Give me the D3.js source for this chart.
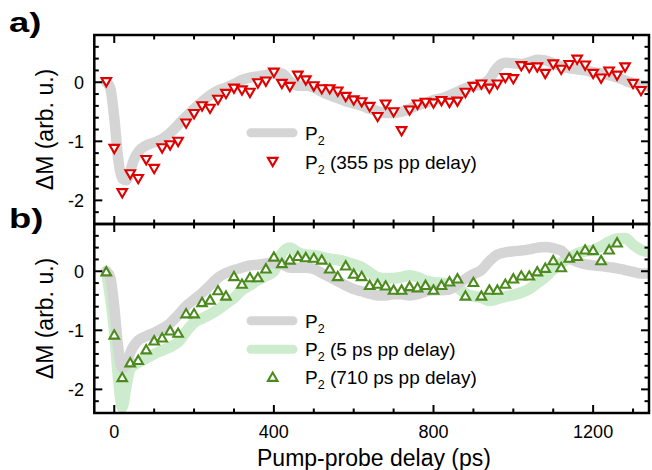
<!DOCTYPE html>
<html><head><meta charset="utf-8">
<script src="https://cdn.jsdelivr.net/npm/d3@7"></script>
<style>
body{margin:0;background:#fff}
svg{display:block}
text{font-family:"Liberation Sans",Arial,sans-serif;fill:#000}
</style>
</head><body><svg id="c" width="652" height="470"></svg>
<script>
// ---------- data ----------
const xTickValues = [0, 400, 800, 1200];
const xTickLabels = ["0", "400", "800", "1200"];
const yTickValues = [0, -1, -2];
const yTickLabels = ["0", "-1", "-2"];
const panelLabels = ["a)", "b)"];
const legendA = ["P", " (355 ps pp delay)"];
const legendB = ["P", " (5 ps pp delay)", " (710 ps pp delay)"];

// grey reference P2 trace, panel a  [delay ps, dM]
const p2RefA = [[-20,0.0],[-10,-0.1],[0,-0.6],[10,-1.3],[20,-1.63],[30,-1.66],[40,-1.50],[50,-1.30],[60,-1.18],[80,-1.07],[100,-1.02],[120,-0.96],[140,-0.86],[160,-0.72],[180,-0.58],[200,-0.45],[220,-0.33],[240,-0.22],[260,-0.14],[280,-0.09],[300,-0.03],[320,0.04],[340,0.08],[360,0.10],[380,0.12],[400,0.15],[420,0.15],[440,0.02],[460,-0.06],[480,-0.06],[500,-0.09],[520,-0.16],[540,-0.22],[560,-0.27],[580,-0.32],[600,-0.36],[620,-0.40],[640,-0.45],[660,-0.49],[680,-0.52],[700,-0.52],[720,-0.50],[740,-0.45],[760,-0.39],[780,-0.35],[800,-0.30],[820,-0.27],[840,-0.22],[860,-0.16],[880,-0.10],[900,-0.06],[920,-0.04],[940,0.05],[960,0.25],[980,0.33],[1000,0.32],[1020,0.31],[1040,0.34],[1060,0.38],[1080,0.37],[1100,0.32],[1120,0.27],[1140,0.24],[1160,0.22],[1180,0.20],[1200,0.17],[1220,0.15],[1240,0.12],[1260,0.08],[1280,0.03],[1300,-0.02],[1320,-0.05],[1338,-0.06]];

// grey reference P2 trace, panel b
const p2RefB = [[-20,0.0],[-10,-0.1],[0,-0.6],[10,-1.3],[20,-1.63],[30,-1.60],[40,-1.38],[60,-1.17],[80,-1.10],[100,-1.04],[120,-0.97],[140,-0.88],[160,-0.74],[180,-0.59],[200,-0.48],[220,-0.37],[240,-0.24],[260,-0.11],[280,-0.03],[300,0.02],[320,0.06],[340,0.10],[360,0.11],[380,0.13],[400,0.14],[420,0.12],[440,0.06],[460,0.06],[480,0.06],[500,0.04],[520,-0.03],[540,-0.10],[560,-0.17],[580,-0.24],[600,-0.30],[620,-0.34],[640,-0.38],[660,-0.41],[680,-0.41],[700,-0.39],[720,-0.39],[740,-0.41],[760,-0.39],[780,-0.34],[800,-0.32],[820,-0.32],[840,-0.31],[860,-0.22],[880,-0.13],[900,-0.05],[920,0.02],[940,0.17],[960,0.28],[980,0.32],[1000,0.34],[1020,0.35],[1040,0.37],[1060,0.40],[1080,0.41],[1100,0.39],[1120,0.35],[1140,0.22],[1160,0.16],[1180,0.12],[1200,0.10],[1220,0.09],[1240,0.07],[1260,0.05],[1280,0.02],[1300,-0.01],[1320,-0.04],[1338,-0.04]];

// light green P2 trace (5 ps pp delay), panel b
const p2Delay5 = [[-20,0.0],[0,-1.0],[10,-1.8],[20,-2.30],[30,-1.95],[40,-1.65],[60,-1.55],[80,-1.47],[100,-1.40],[120,-1.34],[140,-1.28],[160,-1.20],[180,-1.02],[200,-0.87],[220,-0.80],[240,-0.73],[260,-0.65],[280,-0.55],[300,-0.45],[320,-0.32],[340,-0.24],[360,-0.15],[380,-0.08],[400,0.00],[420,0.30],[440,0.40],[460,0.32],[480,0.28],[500,0.27],[520,0.24],[540,0.21],[560,0.19],[580,0.16],[600,0.12],[620,0.07],[640,-0.02],[660,-0.10],[680,-0.12],[700,-0.12],[720,-0.10],[740,-0.07],[760,-0.10],[780,-0.16],[800,-0.19],[820,-0.20],[840,-0.22],[860,-0.28],[880,-0.38],[900,-0.42],[920,-0.45],[940,-0.50],[960,-0.47],[980,-0.43],[1000,-0.40],[1020,-0.36],[1040,-0.30],[1060,-0.20],[1080,-0.10],[1100,0.03],[1120,0.14],[1140,0.22],[1160,0.30],[1180,0.34],[1200,0.36],[1220,0.42],[1240,0.50],[1260,0.55],[1280,0.56],[1300,0.45],[1320,0.36],[1338,0.33]];

// red open down-triangles (355 ps pp delay), panel a
const p2Delay355 = [[-20,0.0],[0,-1.13],[20,-1.88],[40,-1.56],[60,-1.64],[80,-1.32],[100,-1.47],[120,-1.12],[140,-1.07],[160,-1.01],[180,-0.70],[200,-0.54],[220,-0.41],[240,-0.45],[260,-0.30],[280,-0.20],[300,-0.11],[320,-0.14],[340,-0.18],[360,-0.02],[380,0.01],[400,0.16],[420,-0.03],[440,-0.08],[460,0.11],[480,0.03],[500,-0.07],[520,-0.12],[540,-0.12],[560,-0.16],[580,-0.25],[600,-0.31],[620,-0.34],[640,-0.42],[660,-0.59],[680,-0.38],[700,-0.51],[720,-0.83],[740,-0.48],[760,-0.38],[780,-0.35],[800,-0.36],[820,-0.32],[840,-0.35],[860,-0.33],[880,-0.18],[900,-0.08],[920,-0.04],[940,-0.11],[960,-0.04],[980,0.07],[1000,0.05],[1020,0.27],[1040,0.24],[1060,0.25],[1080,0.14],[1100,0.30],[1120,0.21],[1140,0.29],[1160,0.38],[1180,0.28],[1200,0.14],[1220,0.06],[1240,0.18],[1260,0.11],[1280,0.25],[1300,-0.03],[1320,-0.15]];

// green open up-triangles (710 ps pp delay), panel b
const p2Delay710 = [[-20,0.0],[0,-1.07],[20,-1.79],[40,-1.54],[60,-1.50],[80,-1.32],[100,-1.17],[120,-1.12],[140,-1.00],[160,-1.04],[180,-0.71],[200,-0.71],[220,-0.52],[240,-0.48],[260,-0.32],[280,-0.41],[300,-0.08],[320,-0.21],[340,-0.10],[360,-0.10],[380,0.05],[400,0.25],[420,0.14],[440,0.20],[460,0.26],[480,0.24],[500,0.23],[520,0.20],[540,0.05],[560,-0.08],[580,0.10],[600,-0.04],[620,-0.08],[640,-0.23],[660,-0.21],[680,-0.24],[700,-0.31],[720,-0.31],[740,-0.25],[760,-0.27],[780,-0.23],[800,-0.31],[820,-0.23],[840,-0.17],[860,-0.12],[880,-0.41],[900,-0.18],[920,-0.41],[940,-0.31],[960,-0.31],[980,-0.21],[1000,-0.12],[1020,-0.07],[1040,-0.07],[1060,0.0],[1080,0.06],[1100,0.19],[1120,0.07],[1140,0.23],[1160,0.26],[1180,0.37],[1200,0.36],[1220,0.19],[1240,0.37],[1260,0.49]];

// ---------- style ----------
const GREY = "#d5d5d5", LGREEN = "#cdebcd", RED = "#e00000", DGREEN = "#4b8a1d";
const FONT_TICK = 18, FONT_TITLE = 23, FONT_LEG = 19;

const svg = d3.select("#c");
const left = 94.3, right = 649;
const x = d3.scaleLinear().domain([-50, 1340]).range([left, right]);
const panels = [
  {top: 35, bottom: 224},
  {top: 224, bottom: 413}
];
panels.forEach(p => p.y = d3.scaleLinear().domain([-2.4, 0.8]).range([p.bottom, p.top]));

const clipIds = ["clipA", "clipB"];
const defs = svg.append("defs");
panels.forEach((p, i) => {
  defs.append("clipPath").attr("id", clipIds[i]).append("rect")
    .attr("x", left).attr("y", p.top).attr("width", right - left).attr("height", p.bottom - p.top);
});

const line = (ys) => d3.line().x(d => x(d[0])).y(d => ys(d[1])).curve(d3.curveMonotoneX);

function band(g, data, ys, color, w) {
  g.append("path").datum(data).attr("d", line(ys)).attr("fill", "none")
    .attr("stroke", color).attr("stroke-width", w)
    .attr("stroke-linejoin", "round").attr("stroke-linecap", "round");
}
const TW = 9.6, TH = 8.3;
const triDown = `M${-TW/2},${-TH/2}L${TW/2},${-TH/2}L0,${TH/2}Z`;
const triUp = `M${-TW/2},${TH/2}L${TW/2},${TH/2}L0,${-TH/2}Z`;
function markers(g, data, ys, pathStr, color) {
  g.selectAll(null).data(data).enter().append("path")
    .attr("d", pathStr)
    .attr("transform", d => `translate(${x(d[0])},${ys(d[1])})`)
    .attr("fill", "#fff").attr("stroke", color).attr("stroke-width", 2.1);
}

// panel a
const ga = svg.append("g").attr("clip-path", "url(#clipA)");
band(ga, p2RefA, panels[0].y, GREY, 10.5);
markers(ga, p2Delay355, panels[0].y, triDown, RED);

// panel b
const gb = svg.append("g").attr("clip-path", "url(#clipB)");
band(gb, p2Delay5, panels[1].y, LGREEN, 11);
band(gb, p2RefB, panels[1].y, GREY, 10.5);
markers(gb, p2Delay710, panels[1].y, triUp, DGREEN);

// axes / frames
const xMinor = d3.range(0, 1301, 100);
const yMinor = d3.range(-2.2, 0.75, 0.2).map(v => Math.round(v * 10) / 10);
panels.forEach((p, i) => {
  const g = svg.append("g");
  const tk = (x1, y1, x2, y2, w) => g.append("line").attr("x1", x1).attr("y1", y1).attr("x2", x2).attr("y2", y2)
    .attr("stroke", "#000").attr("stroke-width", w);
  xMinor.forEach(v => {
    const major = xTickValues.includes(v);
    const L = major ? 8 : 4.5;
    const xx = x(v);
    tk(xx, p.top, xx, p.top + L, 2);
    tk(xx, p.bottom, xx, p.bottom - L, 2);
  });
  yMinor.forEach(v => {
    const major = yTickValues.includes(v);
    const L = major ? 8 : 4.5;
    const yy = p.y(v);
    tk(left, yy, left + L, yy, 2);
    tk(right, yy, right - L, yy, 2);
  });
  g.append("rect").attr("x", left).attr("y", p.top).attr("width", right - left).attr("height", p.bottom - p.top)
    .attr("fill", "none").attr("stroke", "#000").attr("stroke-width", 2.5);
  yTickValues.forEach((v, k) => {
    g.append("text").attr("x", 84).attr("y", p.y(v)).attr("dy", "0.35em")
      .attr("text-anchor", "end").attr("font-size", FONT_TICK).text(yTickLabels[k]);
  });
  g.append("text").attr("transform", `translate(53,${(p.top + p.bottom) / 2}) rotate(-90)`)
    .attr("text-anchor", "middle").attr("font-size", FONT_TITLE).text("ΔM (arb. u.)");
});
// x tick labels bottom
xTickValues.forEach((v, k) => {
  svg.append("text").attr("x", x(v)).attr("y", 438).attr("text-anchor", "middle")
    .attr("font-size", FONT_TICK).text(xTickLabels[k]);
});
svg.append("text").attr("x", 374).attr("y", 466).attr("text-anchor", "middle")
  .attr("font-size", FONT_TITLE).text("Pump-probe delay (ps)");

// panel labels
svg.append("text").attr("transform", "translate(9,32) scale(1.3,1)").attr("font-size", 28).attr("font-weight", "bold").text(panelLabels[0]);
svg.append("text").attr("transform", "translate(9,228) scale(1.3,1)").attr("font-size", 28).attr("font-weight", "bold").text(panelLabels[1]);

// legends
function legText(yy, suffix) {
  const t = svg.append("text").attr("x", 305).attr("y", yy + 6.8).attr("font-size", FONT_LEG);
  t.append("tspan").text("P");
  t.append("tspan").attr("font-size", 12.5).attr("dy", 5).text("2");
  if (suffix) t.append("tspan").attr("dy", -5).text(suffix);
}
function legLine(yy, color) {
  svg.append("line").attr("x1", 251).attr("x2", 293).attr("y1", yy).attr("y2", yy)
    .attr("stroke", color).attr("stroke-width", 9).attr("stroke-linecap", "round");
}
function legMarker(yy, pathStr, color) {
  svg.append("path").attr("d", pathStr).attr("transform", `translate(272.7,${yy})`)
    .attr("fill", "#fff").attr("stroke", color).attr("stroke-width", 2.1);
}
legLine(132.7, GREY); legText(132.7, "");
legMarker(162, triDown, RED); legText(162, legendA[1]);
legLine(320.7, GREY); legText(320.7, "");
legLine(349.3, LGREEN); legText(349.3, legendB[1]);
legMarker(376.7, triUp, DGREEN); legText(376.7, legendB[2]);
</script>
</body></html>
